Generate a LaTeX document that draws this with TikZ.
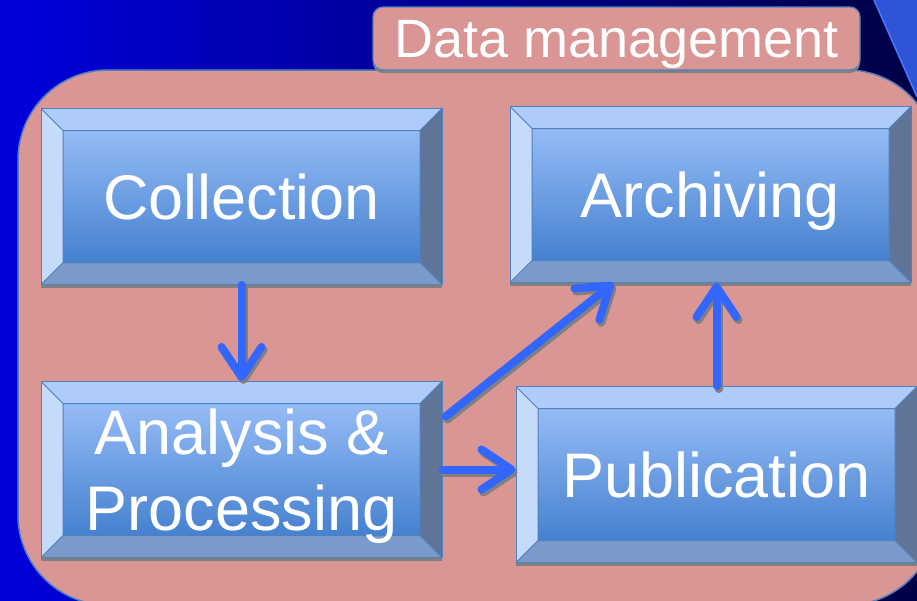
\documentclass[tikz,border=0pt]{standalone}
\usepackage{fontspec}
\setmainfont{Liberation Sans}
\usetikzlibrary{arrows.meta,positioning,shadows}
\definecolor{DeepBlue}{HTML}{0000DC}
\definecolor{NightBlue}{HTML}{000046}
\definecolor{CornerBlue}{HTML}{3054D8}
\definecolor{CornerEdge}{HTML}{4A78FF}
\definecolor{Rose}{HTML}{D99694}
\definecolor{BevelEdge}{HTML}{4F81BD}
\definecolor{BevelTop}{HTML}{AFCBFA}
\definecolor{BevelLeft}{HTML}{C6DBFA}
\definecolor{BevelRight}{HTML}{5F7497}
\definecolor{BevelBottom}{HTML}{7A9BCA}
\definecolor{FaceTop}{HTML}{95BBF6}
\definecolor{FaceBottom}{HTML}{4581CF}
\definecolor{FlowBlue}{HTML}{3366FF}
\definecolor{ShadowGray}{HTML}{808080}
\newcommand\boxtextfont{\fontsize{63}{76}\selectfont}
\newcommand\tabtextfont{\fontsize{54}{60}\selectfont}

\tikzset{
  % raised button: light top/left faces, dark right/bottom faces
  bevelbox/.style={draw=BevelEdge, line width=1pt, inner sep=0pt,
    minimum width=401pt, minimum height=176pt, align=center,
    text=white, font=\boxtextfont,
    drop shadow={shadow xshift=0pt, shadow yshift=-3pt, fill=ShadowGray, opacity=1},
    path picture={
      \coordinate (bb-nw) at (path picture bounding box.north west);
      \coordinate (bb-ne) at (path picture bounding box.north east);
      \coordinate (bb-sw) at (path picture bounding box.south west);
      \coordinate (bb-se) at (path picture bounding box.south east);
      \coordinate (in-nw) at ([shift={(22pt,-22pt)}]bb-nw);
      \coordinate (in-ne) at ([shift={(-22pt,-22pt)}]bb-ne);
      \coordinate (in-sw) at ([shift={(22pt,22pt)}]bb-sw);
      \coordinate (in-se) at ([shift={(-22pt,22pt)}]bb-se);
      \fill[BevelTop] (bb-nw) -- (bb-ne) -- (in-ne) -- (in-nw) -- cycle;
      \fill[BevelLeft] (bb-nw) -- (in-nw) -- (in-sw) -- (bb-sw) -- cycle;
      \fill[BevelRight] (bb-ne) -- (bb-se) -- (in-se) -- (in-ne) -- cycle;
      \fill[BevelBottom] (bb-sw) -- (bb-se) -- (in-se) -- (in-sw) -- cycle;
      \shade[top color=FaceTop, bottom color=FaceBottom] (in-nw) rectangle (in-se);
      \draw[BevelEdge, line width=1pt] (in-nw) rectangle (in-se)
        (bb-nw) -- (in-nw) (bb-ne) -- (in-ne) (bb-sw) -- (in-sw) (bb-se) -- (in-se);
    }},
  tabbox/.style={draw=BevelEdge, line width=1.2pt, fill=Rose, rounded corners=10pt,
    minimum width=487pt, minimum height=63pt, inner sep=0pt, text depth=0pt,
    text=white, font=\tabtextfont,
    drop shadow={shadow xshift=0pt, shadow yshift=-3pt, fill=ShadowGray, opacity=1}},
  flow/.style={draw=FlowBlue, line width=8pt, line cap=round,
    -{Straight Barb[length=30pt, width=40pt, round]}},
  flowshadow/.style={flow, draw=ShadowGray, transform canvas={shift={(2pt,-3pt)}}}
}

\begin{document}
\begin{tikzpicture}[x=1pt, y=-1pt]
  \useasboundingbox (0,0) rectangle (917,600);
  \clip (0,0) rectangle (917,600);
  % backdrop
  \shade[left color=DeepBlue, right color=NightBlue] (0,0) rectangle (917,600);
  \fill[CornerBlue] (874,0) -- (917,0) -- (917,97) -- cycle;
  \draw[CornerEdge, line width=1.5pt] (874,0) -- (917,97);
  % group panel
  \draw[BevelEdge, line width=1.5pt, fill=Rose, rounded corners=90pt] (18,70) rectangle (937,605);
  \node[tabbox] (tab) at (616.5,38.5) {Data management};

  \node[bevelbox] (coll) at (241.5,196.5) {Collection};
  \node[bevelbox, below=96pt of coll] (anal) {Analysis \&\\Processin\smash{g}};
  \node[bevelbox, right=67pt of coll, yshift=2pt, text depth=0pt] (arch) {Archiving};
  \node[bevelbox, right=73pt of anal, yshift=-5pt] (pub) {Publication};

  \foreach \flowstyle in {flowshadow,flow}{
    \draw[\flowstyle] (coll.south) -- (anal.north);
    \draw[\flowstyle] ([shift={(3pt,53pt)}]anal.east) -- ([xshift=-97pt]arch.south);
    \draw[\flowstyle] (anal.east) -- (anal.east -| pub.west);
    \draw[\flowstyle] (pub.north) -- (pub.north |- arch.south);
  }
\end{tikzpicture}
\end{document}
